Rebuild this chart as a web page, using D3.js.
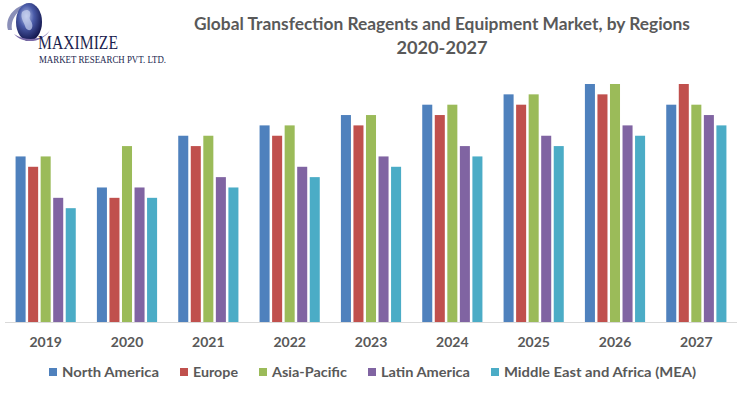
<!DOCTYPE html>
<html>
<head>
<meta charset="utf-8">
<script src="https://cdn.jsdelivr.net/npm/d3@7"></script>
<style>
  html, body { margin: 0; padding: 0; background: #ffffff; }
  svg { display: block; }
</style>
</head>
<body>
<svg id="chart" width="740" height="393"></svg>
<script>
// ---- data ----
const years = ["2019", "2020", "2021", "2022", "2023", "2024", "2025", "2026", "2027"];
const seriesNames = ["North America", "Europe", "Asia-Pacific", "Latin America", "Middle East and Africa (MEA)"];
const northAmerica = [16, 13, 18, 19, 20, 21, 22, 23, 21];
const europe       = [15, 12, 17, 18, 19, 20, 21, 22, 23];
const asiaPacific  = [16, 17, 18, 19, 20, 21, 22, 23, 21];
const latinAmerica = [12, 13, 14, 15, 16, 17, 18, 19, 20];
const mea          = [11, 12, 13, 14, 15, 16, 17, 18, 19];
const seriesValues = [northAmerica, europe, asiaPacific, latinAmerica, mea];
const colors = ["#4F81BD", "#C0504D", "#9BBB59", "#8064A2", "#4BACC6"];
const titleLines = ["Global Transfection Reagents and Equipment Market, by Regions", "2020-2027"];

// ---- layout ----
const svg = d3.select("#chart");
const plot = { left: 5, right: 737, top: 84, bottom: 322 };
const font = "Lato, 'Open Sans', sans-serif";
const textColor = "#595959";

const x0 = d3.scaleBand().domain(years).range([plot.left, plot.right])
  .paddingInner(0.26).paddingOuter(0.13);
const x1 = d3.scaleBand().domain(seriesNames).range([0, x0.bandwidth()])
  .paddingInner(0.2).paddingOuter(0);
const y = d3.scaleLinear().domain([0, 23]).range([plot.bottom, plot.top]);
const color = d3.scaleOrdinal().domain(seriesNames).range(colors);

const rows = years.map((yr, i) => ({ year: yr, vals: seriesNames.map((s, j) => ({ s, v: seriesValues[j][i] })) }));

// bars
const g = svg.append("g");
g.selectAll("g.grp").data(rows).join("g")
  .attr("class", "grp")
  .attr("transform", d => `translate(${x0(d.year)},0)`)
  .selectAll("rect").data(d => d.vals).join("rect")
  .attr("x", d => x1(d.s))
  .attr("width", x1.bandwidth())
  .attr("y", d => y(d.v))
  .attr("height", d => y(0) - y(d.v))
  .attr("fill", d => color(d.s));

// x axis
const xAxis = svg.append("g")
  .attr("transform", `translate(0,${plot.bottom})`)
  .call(d3.axisBottom(x0).tickSize(0).tickPadding(15));
xAxis.select(".domain").attr("stroke", "#d9d9d9").attr("stroke-width", 1.2)
  .attr("d", `M${plot.left},0.5H${plot.right}`);
xAxis.selectAll("text")
  .attr("font-family", font).attr("font-weight", "bold").attr("font-size", 14)
  .attr("fill", textColor).attr("dy", "0.71em");

// title
const title = svg.append("g");
titleLines.forEach((t, i) => {
  title.append("text")
    .attr("x", 442).attr("y", 30 + i * 23.5)
    .attr("text-anchor", "middle")
    .attr("font-family", font).attr("font-weight", "bold").attr("font-size", 16.5)
    .attr("fill", textColor)
    .attr("textLength", i === 0 ? 496 : 91)
    .attr("lengthAdjust", "spacingAndGlyphs")
    .text(t);
});

// legend
const legend = svg.append("g");
const legendWidths = [97, 45, 75, 89, 192];
let lx = 49;
seriesNames.forEach((s, i) => {
  const item = legend.append("g").attr("transform", `translate(${lx},372)`);
  item.append("rect").attr("x", 0).attr("y", -4).attr("width", 8).attr("height", 8).attr("fill", color(s));
  item.append("text").attr("x", 13).attr("y", 0).attr("dy", "0.36em")
    .attr("font-family", font).attr("font-weight", "bold").attr("font-size", 13.5)
    .attr("fill", textColor)
    .attr("textLength", legendWidths[i]).attr("lengthAdjust", "spacingAndGlyphs")
    .text(s);
  lx += 13 + legendWidths[i] + 21;
});

// logo
const logo = svg.append("g");
const grad = svg.append("defs").append("radialGradient").attr("id", "globe")
  .attr("cx", "40%").attr("cy", "35%").attr("r", "65%");
grad.append("stop").attr("offset", "0%").attr("stop-color", "#b9c6ea");
grad.append("stop").attr("offset", "45%").attr("stop-color", "#4a5ba8");
grad.append("stop").attr("offset", "100%").attr("stop-color", "#141850");
logo.append("path")
  .attr("d", "M8,30 C4,16 18,2 34,4 C22,6 10,16 12,30 Z")
  .attr("fill", "#8a8fb8");
logo.append("ellipse").attr("cx", 29).attr("cy", 22).attr("rx", 13).attr("ry", 19)
  .attr("fill", "url(#globe)");
logo.append("path")
  .attr("d", "M22,12 C26,8 32,10 30,16 C28,20 34,22 32,28 C30,32 26,30 25,26 C24,22 20,18 22,12 Z")
  .attr("fill", "#c9d3f0").attr("opacity", 0.7);
logo.append("path")
  .attr("d", "M14,34 C22,44 42,44 50,30 C44,40 26,42 14,34 Z")
  .attr("fill", "#7a6aa8");
logo.append("text").attr("x", 38).attr("y", 49)
  .attr("font-family", "'Liberation Serif', 'DejaVu Serif', serif").attr("font-size", 19)
  .attr("fill", "#1b1f4f").attr("textLength", 80).attr("lengthAdjust", "spacingAndGlyphs")
  .text("MAXIMIZE");
logo.append("text").attr("x", 39).attr("y", 63)
  .attr("font-family", "'Liberation Serif', 'DejaVu Serif', serif").attr("font-size", 10.5)
  .attr("fill", "#1b1f4f").attr("textLength", 127).attr("lengthAdjust", "spacingAndGlyphs")
  .text("MARKET RESEARCH PVT. LTD.");
</script>
</body>
</html>
